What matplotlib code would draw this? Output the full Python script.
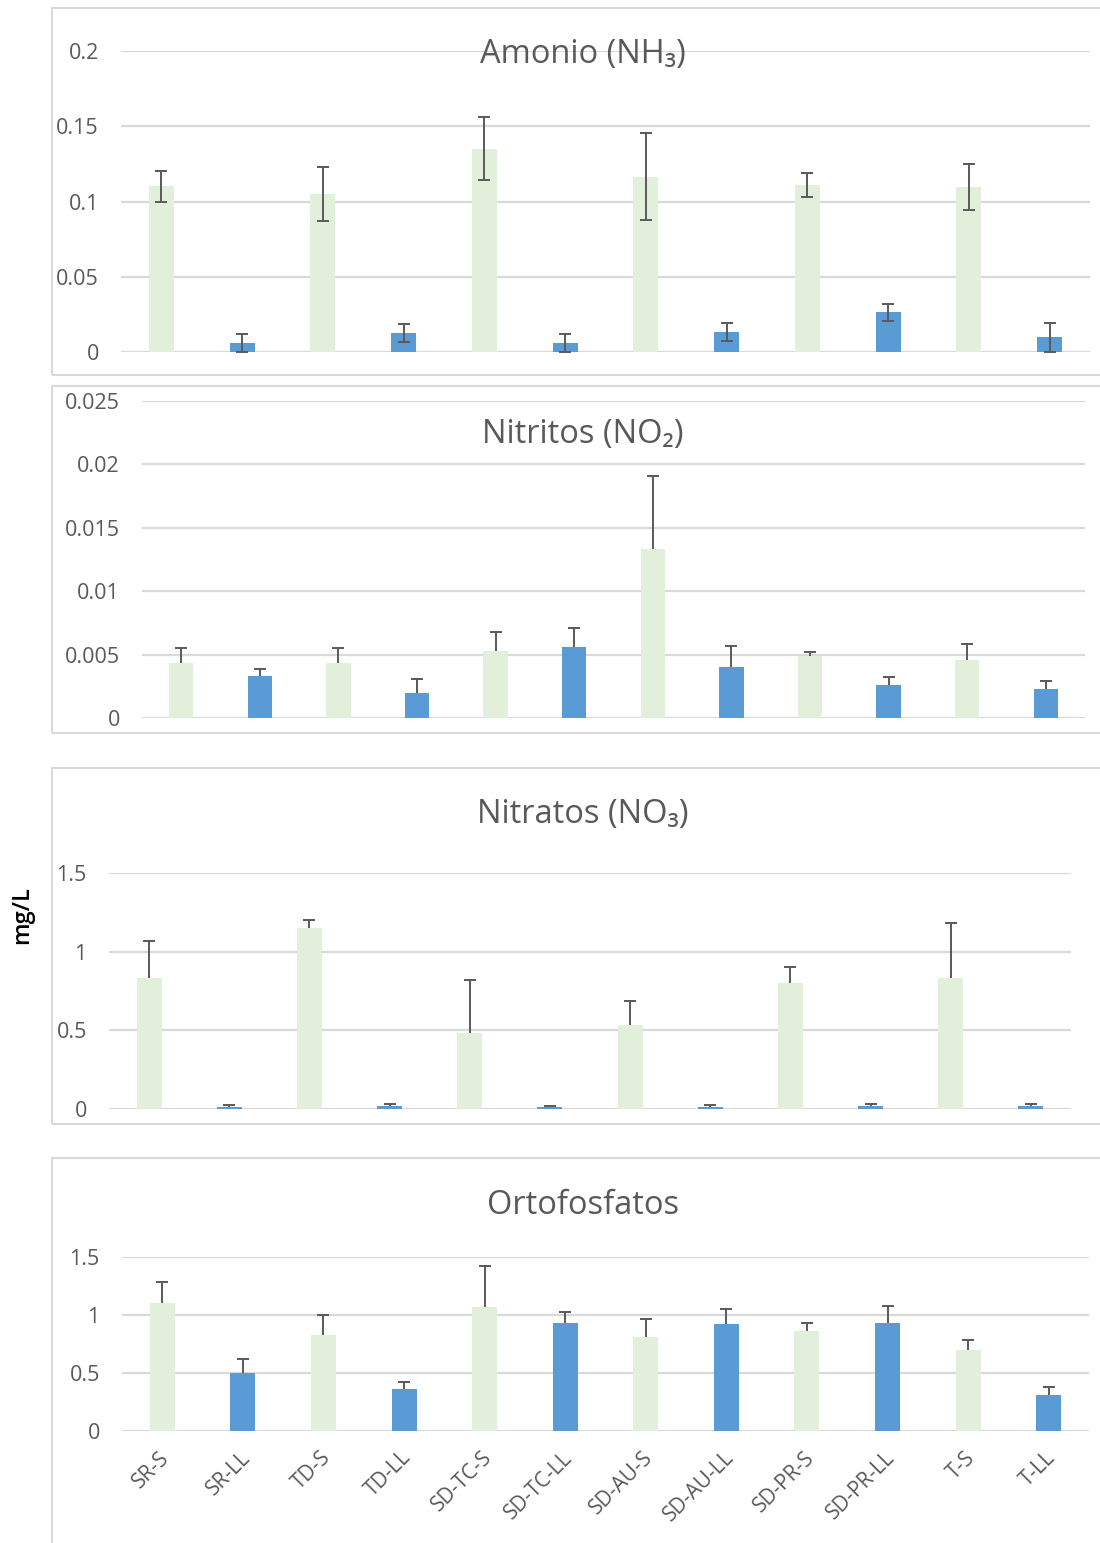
import numpy as np
import matplotlib
matplotlib.use('Agg')
from matplotlib import pyplot as plt
from matplotlib.patches import Rectangle
from matplotlib.ticker import FuncFormatter

plt.rcParams['font.family'] = ['Open Sans', 'DejaVu Sans']

sites = ['SR-S', 'SR-LL', 'TD-S', 'TD-LL', 'SD-TC-S', 'SD-TC-LL',
         'SD-AU-S', 'SD-AU-LL', 'SD-PR-S', 'SD-PR-LL', 'T-S', 'T-LL']

amonio = [0.110, 0.0062, 0.105, 0.0125, 0.135, 0.0062,
          0.1165, 0.013, 0.111, 0.0263, 0.1097, 0.0097]
amonio_err = [0.010, 0.006, 0.018, 0.006, 0.021, 0.006,
              0.029, 0.006, 0.0077, 0.0058, 0.0153, 0.0098]

nitritos = [0.0043, 0.0033, 0.0043, 0.0020, 0.0053, 0.0056,
            0.0133, 0.0040, 0.0049, 0.0026, 0.0046, 0.0023]
nitritos_err = [0.0012, 0.0006, 0.0012, 0.00105, 0.0015, 0.0015,
                0.0058, 0.0017, 0.0003, 0.0006, 0.0012, 0.0006]

nitratos = [0.83, 0.015, 1.15, 0.021, 0.482, 0.013,
            0.532, 0.013, 0.80, 0.017, 0.83, 0.017]
nitratos_err = [0.235, 0.008, 0.05, 0.01, 0.336, 0.008,
                0.156, 0.01, 0.104, 0.013, 0.35, 0.015]

orto = [1.10, 0.503, 0.828, 0.362, 1.069, 0.931,
        0.81, 0.922, 0.862, 0.934, 0.698, 0.313]
orto_err = [0.184, 0.115, 0.17, 0.063, 0.35, 0.092,
            0.155, 0.13, 0.066, 0.144, 0.086, 0.066]

green = '#E2EFDA'
blue = '#5B9BD5'
gray = '#595959'
grid = '#D9D9D9'

W, H = 1100, 1543
fig = plt.figure(figsize=(W / 100, H / 100), dpi=100)


def px_axes(left, right, top, bottom):
    return fig.add_axes([left / W, 1 - bottom / H, (right - left) / W, (bottom - top) / H])


# panel frames (left, top, right, bottom) in pixels
frames = [(52, 8, 1110, 375), (52, 386, 1110, 733), (52, 768, 1110, 1124), (52, 1158, 1110, 1560)]
for l, t, r, b in frames:
    fig.patches.append(Rectangle((l / W, 1 - b / H), (r - l) / W, (b - t) / H,
                                 transform=fig.transFigure, fill=False,
                                 edgecolor=grid, linewidth=1.5, zorder=0))

panels = [
    ('Amonio (NH₃)', amonio, amonio_err, True, (121, 1090, 51, 352), 0.2, 0.05, 54),
    ('Nitritos (NO₂)', nitritos, nitritos_err, False, (142, 1085, 401, 718), 0.025, 0.005, 434),
    ('Nitratos (NO₃)', nitratos, nitratos_err, False, (109, 1071, 873, 1109), 1.5, 0.5, 815),
    ('Ortofosfatos', orto, orto_err, False, (122, 1089, 1257, 1431), 1.5, 0.5, 1205),
]

x = np.arange(len(sites))
colors = [green if i % 2 == 0 else blue for i in range(len(sites))]

for k, (title, vals, errs, both, box, ymax, step, ty) in enumerate(panels):
    ax = px_axes(*box)
    vals = np.array(vals)
    errs = np.array(errs)
    yerr = errs if both else [np.zeros_like(errs), errs]
    ax.bar(x, vals, width=0.31, color=colors, zorder=2)
    eb = ax.errorbar(x, vals, yerr=yerr, fmt='none', ecolor=gray, elinewidth=1.4,
                     capsize=4.5, capthick=1.4, zorder=3)
    if not both:
        # plus-only bars: no cap at the bottom end
        eb[1][0].set_visible(False)
    ax.set_xlim(-0.5, len(sites) - 0.5)
    ax.set_ylim(0, ymax)
    ax.set_yticks(np.arange(0, ymax + step / 2, step))
    ax.yaxis.set_major_formatter(FuncFormatter(lambda v, p: '%g' % round(v, 4)))
    ax.grid(axis='y', color=grid, linewidth=1.6, zorder=0)
    ax.set_axisbelow(True)
    for s in ax.spines.values():
        s.set_visible(False)
    ax.tick_params(axis='y', length=0, pad=16, labelsize=15.5, labelcolor=gray)
    ax.tick_params(axis='x', length=0)
    if k == 3:
        ax.set_xticks(x + 0.05)
        ax.set_xticklabels(sites, rotation=45, ha='right', va='center',
                           rotation_mode='anchor', fontsize=15, color=gray)
        ax.tick_params(axis='x', pad=17)
    else:
        ax.set_xticks([])
    ax.patch.set_alpha(0)
    fig.text(583 / W, 1 - ty / H, title, ha='center', va='center',
             fontsize=23.5, color=gray)

fig.text(22 / W, 1 - 915 / H, 'mg/L', rotation=90, ha='center', va='center',
         fontsize=17, fontweight='semibold', color='black')

fig.savefig('out.png', dpi=100)
